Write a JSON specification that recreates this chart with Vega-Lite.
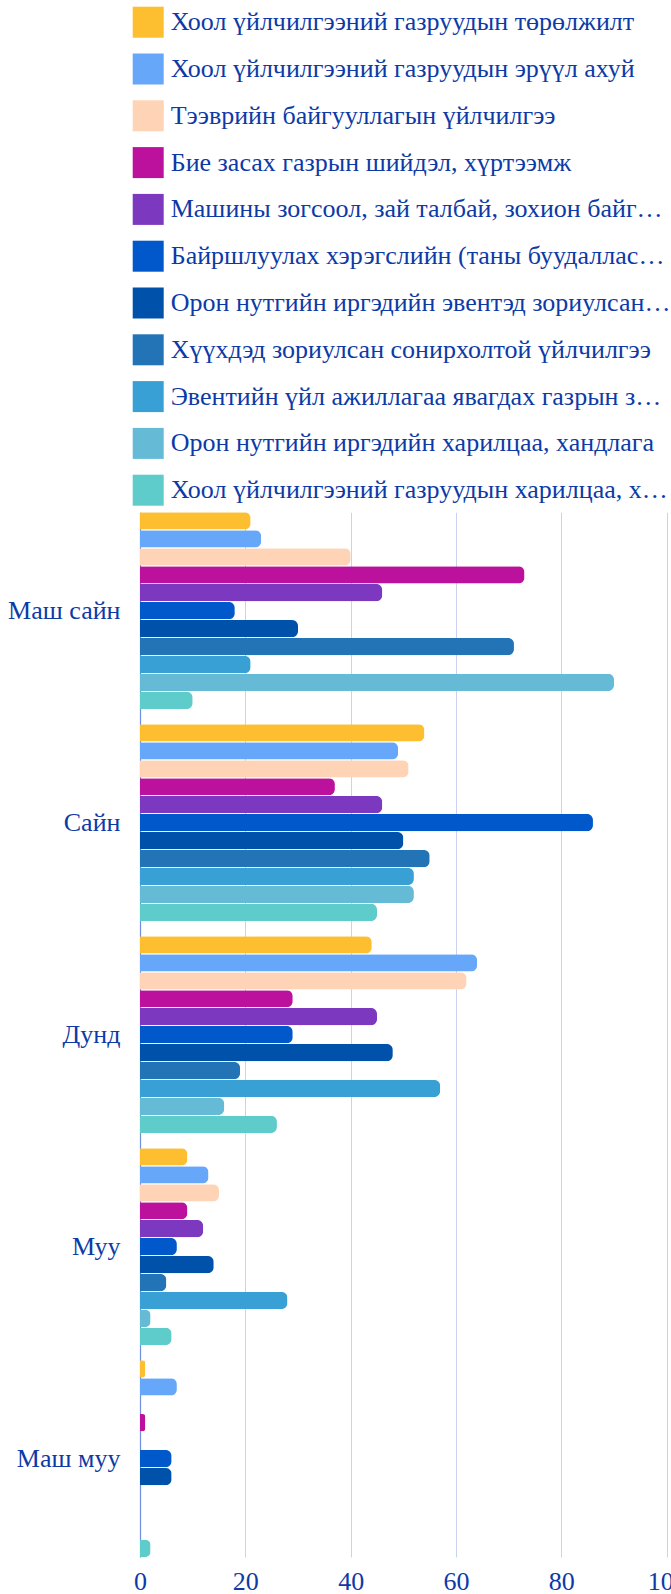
{
  "$schema": "https://vega.github.io/schema/vega-lite/v6.json",
  "autosize": {"type": "none"},
  "width": 526.7,
  "height": 1044.7,
  "padding": {"left": 140, "top": 512.3, "right": 4.3, "bottom": 37},
  "background": "white",
  "config": {
    "view": {"stroke": null},
    "font": "Liberation Serif"
  },
  "datasets": {
    "main": [
      {"rating": "Маш сайн", "cat": "Хоол үйлчилгээний газруудын төрөлжилт", "value": 21},
      {"rating": "Маш сайн", "cat": "Хоол үйлчилгээний газруудын эрүүл ахуй", "value": 23},
      {"rating": "Маш сайн", "cat": "Тээврийн байгууллагын үйлчилгээ", "value": 40},
      {"rating": "Маш сайн", "cat": "Бие засах газрын шийдэл, хүртээмж", "value": 73},
      {"rating": "Маш сайн", "cat": "Машины зогсоол, зай талбай, зохион байгуулалт", "value": 46},
      {"rating": "Маш сайн", "cat": "Байршлуулах хэрэгслийн (таны буудалласан газар)", "value": 18},
      {"rating": "Маш сайн", "cat": "Орон нутгийн иргэдийн эвентэд зориулсан үйлчилгээ", "value": 30},
      {"rating": "Маш сайн", "cat": "Хүүхдэд зориулсан сонирхолтой үйлчилгээ", "value": 71},
      {"rating": "Маш сайн", "cat": "Эвентийн үйл ажиллагаа явагдах газрын зохион байгуулалт", "value": 21},
      {"rating": "Маш сайн", "cat": "Орон нутгийн иргэдийн харилцаа, хандлага", "value": 90},
      {"rating": "Маш сайн", "cat": "Хоол үйлчилгээний газруудын харилцаа, хандлага", "value": 10},

      {"rating": "Сайн", "cat": "Хоол үйлчилгээний газруудын төрөлжилт", "value": 54},
      {"rating": "Сайн", "cat": "Хоол үйлчилгээний газруудын эрүүл ахуй", "value": 49},
      {"rating": "Сайн", "cat": "Тээврийн байгууллагын үйлчилгээ", "value": 51},
      {"rating": "Сайн", "cat": "Бие засах газрын шийдэл, хүртээмж", "value": 37},
      {"rating": "Сайн", "cat": "Машины зогсоол, зай талбай, зохион байгуулалт", "value": 46},
      {"rating": "Сайн", "cat": "Байршлуулах хэрэгслийн (таны буудалласан газар)", "value": 86},
      {"rating": "Сайн", "cat": "Орон нутгийн иргэдийн эвентэд зориулсан үйлчилгээ", "value": 50},
      {"rating": "Сайн", "cat": "Хүүхдэд зориулсан сонирхолтой үйлчилгээ", "value": 55},
      {"rating": "Сайн", "cat": "Эвентийн үйл ажиллагаа явагдах газрын зохион байгуулалт", "value": 52},
      {"rating": "Сайн", "cat": "Орон нутгийн иргэдийн харилцаа, хандлага", "value": 52},
      {"rating": "Сайн", "cat": "Хоол үйлчилгээний газруудын харилцаа, хандлага", "value": 45},

      {"rating": "Дунд", "cat": "Хоол үйлчилгээний газруудын төрөлжилт", "value": 44},
      {"rating": "Дунд", "cat": "Хоол үйлчилгээний газруудын эрүүл ахуй", "value": 64},
      {"rating": "Дунд", "cat": "Тээврийн байгууллагын үйлчилгээ", "value": 62},
      {"rating": "Дунд", "cat": "Бие засах газрын шийдэл, хүртээмж", "value": 29},
      {"rating": "Дунд", "cat": "Машины зогсоол, зай талбай, зохион байгуулалт", "value": 45},
      {"rating": "Дунд", "cat": "Байршлуулах хэрэгслийн (таны буудалласан газар)", "value": 29},
      {"rating": "Дунд", "cat": "Орон нутгийн иргэдийн эвентэд зориулсан үйлчилгээ", "value": 48},
      {"rating": "Дунд", "cat": "Хүүхдэд зориулсан сонирхолтой үйлчилгээ", "value": 19},
      {"rating": "Дунд", "cat": "Эвентийн үйл ажиллагаа явагдах газрын зохион байгуулалт", "value": 57},
      {"rating": "Дунд", "cat": "Орон нутгийн иргэдийн харилцаа, хандлага", "value": 16},
      {"rating": "Дунд", "cat": "Хоол үйлчилгээний газруудын харилцаа, хандлага", "value": 26},

      {"rating": "Муу", "cat": "Хоол үйлчилгээний газруудын төрөлжилт", "value": 9},
      {"rating": "Муу", "cat": "Хоол үйлчилгээний газруудын эрүүл ахуй", "value": 13},
      {"rating": "Муу", "cat": "Тээврийн байгууллагын үйлчилгээ", "value": 15},
      {"rating": "Муу", "cat": "Бие засах газрын шийдэл, хүртээмж", "value": 9},
      {"rating": "Муу", "cat": "Машины зогсоол, зай талбай, зохион байгуулалт", "value": 12},
      {"rating": "Муу", "cat": "Байршлуулах хэрэгслийн (таны буудалласан газар)", "value": 7},
      {"rating": "Муу", "cat": "Орон нутгийн иргэдийн эвентэд зориулсан үйлчилгээ", "value": 14},
      {"rating": "Муу", "cat": "Хүүхдэд зориулсан сонирхолтой үйлчилгээ", "value": 5},
      {"rating": "Муу", "cat": "Эвентийн үйл ажиллагаа явагдах газрын зохион байгуулалт", "value": 28},
      {"rating": "Муу", "cat": "Орон нутгийн иргэдийн харилцаа, хандлага", "value": 2},
      {"rating": "Муу", "cat": "Хоол үйлчилгээний газруудын харилцаа, хандлага", "value": 6},

      {"rating": "Маш муу", "cat": "Хоол үйлчилгээний газруудын төрөлжилт", "value": 1},
      {"rating": "Маш муу", "cat": "Хоол үйлчилгээний газруудын эрүүл ахуй", "value": 7},
      {"rating": "Маш муу", "cat": "Тээврийн байгууллагын үйлчилгээ", "value": 0},
      {"rating": "Маш муу", "cat": "Бие засах газрын шийдэл, хүртээмж", "value": 1},
      {"rating": "Маш муу", "cat": "Машины зогсоол, зай талбай, зохион байгуулалт", "value": 0},
      {"rating": "Маш муу", "cat": "Байршлуулах хэрэгслийн (таны буудалласан газар)", "value": 6},
      {"rating": "Маш муу", "cat": "Орон нутгийн иргэдийн эвентэд зориулсан үйлчилгээ", "value": 6},
      {"rating": "Маш муу", "cat": "Хүүхдэд зориулсан сонирхолтой үйлчилгээ", "value": 0},
      {"rating": "Маш муу", "cat": "Эвентийн үйл ажиллагаа явагдах газрын зохион байгуулалт", "value": 0},
      {"rating": "Маш муу", "cat": "Орон нутгийн иргэдийн харилцаа, хандлага", "value": 0},
      {"rating": "Маш муу", "cat": "Хоол үйлчилгээний газруудын харилцаа, хандлага", "value": 2}
    ]
  },
  "data": {"name": "main"},
  "mark": {"type": "bar", "cornerRadiusEnd": 6},
  "encoding": {
    "y": {
      "field": "rating",
      "type": "nominal",
      "sort": ["Маш сайн", "Сайн", "Дунд", "Муу", "Маш муу"],
      "scale": {"paddingInner": 0.072, "paddingOuter": 0},
      "axis": {
        "title": null,
        "ticks": false,
        "domain": true,
        "domainColor": "#6f90e0",
        "domainWidth": 1.2,
        "labelFont": "Liberation Serif",
        "labelFontSize": 26,
        "labelColor": "#0d3aa6",
        "labelPadding": 20,
        "grid": false
      }
    },
    "yOffset": {
      "field": "cat",
      "type": "nominal",
      "sort": [
        "Хоол үйлчилгээний газруудын төрөлжилт",
        "Хоол үйлчилгээний газруудын эрүүл ахуй",
        "Тээврийн байгууллагын үйлчилгээ",
        "Бие засах газрын шийдэл, хүртээмж",
        "Машины зогсоол, зай талбай, зохион байгуулалт",
        "Байршлуулах хэрэгслийн (таны буудалласан газар)",
        "Орон нутгийн иргэдийн эвентэд зориулсан үйлчилгээ",
        "Хүүхдэд зориулсан сонирхолтой үйлчилгээ",
        "Эвентийн үйл ажиллагаа явагдах газрын зохион байгуулалт",
        "Орон нутгийн иргэдийн харилцаа, хандлага",
        "Хоол үйлчилгээний газруудын харилцаа, хандлага"
      ],
      "scale": {"paddingInner": 0.04, "paddingOuter": 0}
    },
    "x": {
      "field": "value",
      "type": "quantitative",
      "scale": {"domain": [0, 100], "nice": false},
      "axis": {
        "title": null,
        "values": [0, 20, 40, 60, 80, 100],
        "domain": false,
        "ticks": false,
        "grid": true,
        "gridColor": "#c9d3ef",
        "gridWidth": 1,
        "labelFont": "Liberation Serif",
        "labelFontSize": 26,
        "labelColor": "#0d3aa6",
        "labelPadding": 11,
        "labelFlush": false,
        "labelOverlap": false
      }
    },
    "color": {
      "field": "cat",
      "type": "nominal",
      "scale": {
        "domain": [
          "Хоол үйлчилгээний газруудын төрөлжилт",
          "Хоол үйлчилгээний газруудын эрүүл ахуй",
          "Тээврийн байгууллагын үйлчилгээ",
          "Бие засах газрын шийдэл, хүртээмж",
          "Машины зогсоол, зай талбай, зохион байгуулалт",
          "Байршлуулах хэрэгслийн (таны буудалласан газар)",
          "Орон нутгийн иргэдийн эвентэд зориулсан үйлчилгээ",
          "Хүүхдэд зориулсан сонирхолтой үйлчилгээ",
          "Эвентийн үйл ажиллагаа явагдах газрын зохион байгуулалт",
          "Орон нутгийн иргэдийн харилцаа, хандлага",
          "Хоол үйлчилгээний газруудын харилцаа, хандлага"
        ],
        "range": ["#fdbe2f", "#66a7fa", "#ffd3b6", "#bb119d", "#7c38bf", "#0058cb", "#0051a9", "#2274b7", "#39a0d6", "#65bad6", "#5eccca"]
      },
      "legend": {
        "title": null,
        "orient": "none",
        "legendX": -7.3,
        "legendY": -505.6,
        "direction": "vertical",
        "symbolType": "square",
        "symbolSize": 961,
        "symbolStrokeWidth": 0,
        "symbolOpacity": 1,
        "labelFont": "Liberation Serif",
        "labelFontSize": 26,
        "labelColor": "#0d3aa6",
        "labelLimit": 501,
        "labelOffset": 7,
        "rowPadding": 15.8,
        "padding": 0
      }
    }
  }
}
